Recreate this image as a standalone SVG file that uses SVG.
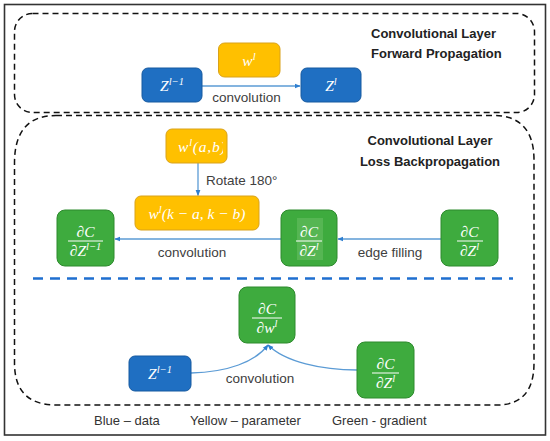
<svg xmlns="http://www.w3.org/2000/svg" width="550" height="441" viewBox="0 0 550 441">
<style>
.frame{fill:#fff;stroke:#333;stroke-width:1.6}
.dbox{fill:none;stroke:#111;stroke-width:1.5;stroke-dasharray:6 4}
.sep{fill:none;stroke:#1f6fd0;stroke-width:2.6;stroke-dasharray:10 7}
.blue{fill:#1f6fc2;stroke:#175aa0;stroke-width:1}
.yellow{fill:#ffc000;stroke:#d9a21a;stroke-width:1}
.green{fill:#3eab3e;stroke:#2d8a2d;stroke-width:1}
.hl{fill:#56b653}
.conn{fill:none;stroke:#5b9bd5;stroke-width:1.3}
.m{font-family:"Liberation Serif","DejaVu Serif",serif;font-style:italic;font-size:15.5px;fill:#fff}
.sup{font-size:10.5px}
.bar{stroke:#fff;stroke-width:1}
.lbl{font-family:"Liberation Sans",Arial,sans-serif;font-size:13.5px;fill:#404040}
.title{font-family:"Liberation Sans",Arial,sans-serif;font-size:13px;font-weight:bold;fill:#222}
.leg{font-family:"Liberation Sans",Arial,sans-serif;font-size:13px;fill:#333}
</style>
<defs>
<marker id="ah" viewBox="0 0 10 10" refX="9" refY="5" markerWidth="6" markerHeight="6" orient="auto" markerUnits="userSpaceOnUse">
<path d="M0,1 L10,5 L0,9 z" fill="#2f7fd0"/>
</marker>
<clipPath id="clipab"><rect x="166" y="129" width="57" height="34"/></clipPath>
</defs>
<rect class="frame" x="4.5" y="4.5" width="541" height="430.5"/>
<g id="section-forward">
<rect class="dbox" x="14.5" y="13.5" width="520" height="99" rx="18"/>
<text class="title" x="371" y="38">Convolutional Layer</text>
<text class="title" x="371" y="58">Forward Propagation</text>
</g>
<g id="section-backward">
<path class="dbox" d="M56,115.5 L493,115.5 Q534,115.5 534,160 L534,363 Q534,405 497,405 L56,405 Q14.5,405 14.5,363 L14.5,163 Q14.5,115.5 56,115.5 Z"/>
<text class="title" x="430" y="145" text-anchor="middle">Convolutional Layer</text>
<text class="title" x="430" y="166" text-anchor="middle">Loss Backpropagation</text>
<line class="sep" x1="33" y1="278.5" x2="513" y2="278.5"/>
</g>
<g id="connectors">
<line class="conn" x1="202" y1="86" x2="300" y2="86" marker-end="url(#ah)"/>
<text class="lbl" x="246.5" y="102" text-anchor="middle">convolution</text>
<line class="conn" x1="198" y1="163" x2="198" y2="195.5" marker-end="url(#ah)"/>
<text class="lbl" x="206" y="185">Rotate 180°</text>
<line class="conn" x1="441" y1="239" x2="338" y2="239" marker-end="url(#ah)"/>
<text class="lbl" x="390" y="257" text-anchor="middle">edge filling</text>
<line class="conn" x1="281" y1="239" x2="115" y2="239" marker-end="url(#ah)"/>
<text class="lbl" x="192" y="257" text-anchor="middle">convolution</text>
<path class="conn" d="M191,373 C228,372 255,362 268,345" marker-end="url(#ah)"/>
<path class="conn" d="M357,370 C322,370 285,362 268,345" marker-end="url(#ah)"/>
<text class="lbl" x="260" y="383" text-anchor="middle">convolution</text>
</g>
<g id="node-z-prev-fwd">
<rect class="blue" x="142" y="68" width="60" height="34" rx="6"/>
<text class="m" x="172" y="91" text-anchor="middle">Z<tspan class="sup" dy="-6">l−1</tspan></text>
</g>
<g id="node-w-fwd">
<rect class="yellow" x="218.5" y="43" width="61.5" height="34" rx="6"/>
<text class="m" x="249" y="66" text-anchor="middle">w<tspan class="sup" dy="-6">l</tspan></text>
</g>
<g id="node-z-fwd">
<rect class="blue" x="301" y="68" width="60" height="34" rx="6"/>
<text class="m" x="331" y="91" text-anchor="middle">Z<tspan class="sup" dy="-6">l</tspan></text>
</g>
<g id="node-w-ab">
<rect class="yellow" x="166" y="129" width="61" height="34" rx="6"/>
<text class="m" x="178" y="152" clip-path="url(#clipab)" letter-spacing="0.8">w<tspan class="sup" dy="-6">l</tspan><tspan dy="6">(a,b)</tspan></text>
</g>
<g id="node-w-rot">
<rect class="yellow" x="135" y="196" width="124" height="34" rx="6"/>
<text class="m" x="197" y="219" text-anchor="middle">w<tspan class="sup" dy="-6">l</tspan><tspan dy="6">(k − a, k − b)</tspan></text>
</g>
<g id="node-dc-dz-prev">
<rect class="green" x="57" y="210" width="57" height="56" rx="8"/>
<text class="m" x="85.5" y="237" text-anchor="middle">∂C</text>
<line class="bar" x1="68" y1="241" x2="103" y2="241"/>
<text class="m" x="85.5" y="256" text-anchor="middle">∂Z<tspan class="sup" dy="-6">l−1</tspan></text>
</g>
<g id="node-dc-dz-filled">
<rect class="green" x="281" y="210" width="56" height="56" rx="8"/>
<rect class="hl" x="297" y="218" width="26" height="42"/>
<text class="m" x="309" y="237" text-anchor="middle">∂C</text>
<line class="bar" x1="296" y1="241" x2="322" y2="241"/>
<text class="m" x="309" y="256" text-anchor="middle">∂Z<tspan class="sup" dy="-6">l</tspan></text>
</g>
<g id="node-dc-dz">
<rect class="green" x="441" y="210" width="57" height="56" rx="8"/>
<text class="m" x="469.5" y="237" text-anchor="middle">∂C</text>
<line class="bar" x1="457" y1="241" x2="483" y2="241"/>
<text class="m" x="469.5" y="256" text-anchor="middle">∂Z<tspan class="sup" dy="-6">l</tspan></text>
</g>
<g id="node-dc-dw">
<rect class="green" x="239" y="287" width="56" height="56" rx="8"/>
<text class="m" x="267" y="314" text-anchor="middle">∂C</text>
<line class="bar" x1="252" y1="318" x2="282" y2="318"/>
<text class="m" x="267" y="333" text-anchor="middle">∂w<tspan class="sup" dy="-6">l</tspan></text>
</g>
<g id="node-z-prev-bwd">
<rect class="blue" x="129" y="356" width="62" height="35" rx="6"/>
<text class="m" x="160" y="379" text-anchor="middle">Z<tspan class="sup" dy="-6">l−1</tspan></text>
</g>
<g id="node-dc-dz-bwd">
<rect class="green" x="357" y="342" width="57" height="56" rx="8"/>
<text class="m" x="385.5" y="369" text-anchor="middle">∂C</text>
<line class="bar" x1="372" y1="373" x2="399" y2="373"/>
<text class="m" x="385.5" y="388" text-anchor="middle">∂Z<tspan class="sup" dy="-6">l</tspan></text>
</g>
<g id="legend">
<text class="leg" x="94" y="425">Blue – data</text>
<text class="leg" x="190" y="425">Yellow – parameter</text>
<text class="leg" x="332" y="425">Green - gradient</text>
</g>
</svg>
